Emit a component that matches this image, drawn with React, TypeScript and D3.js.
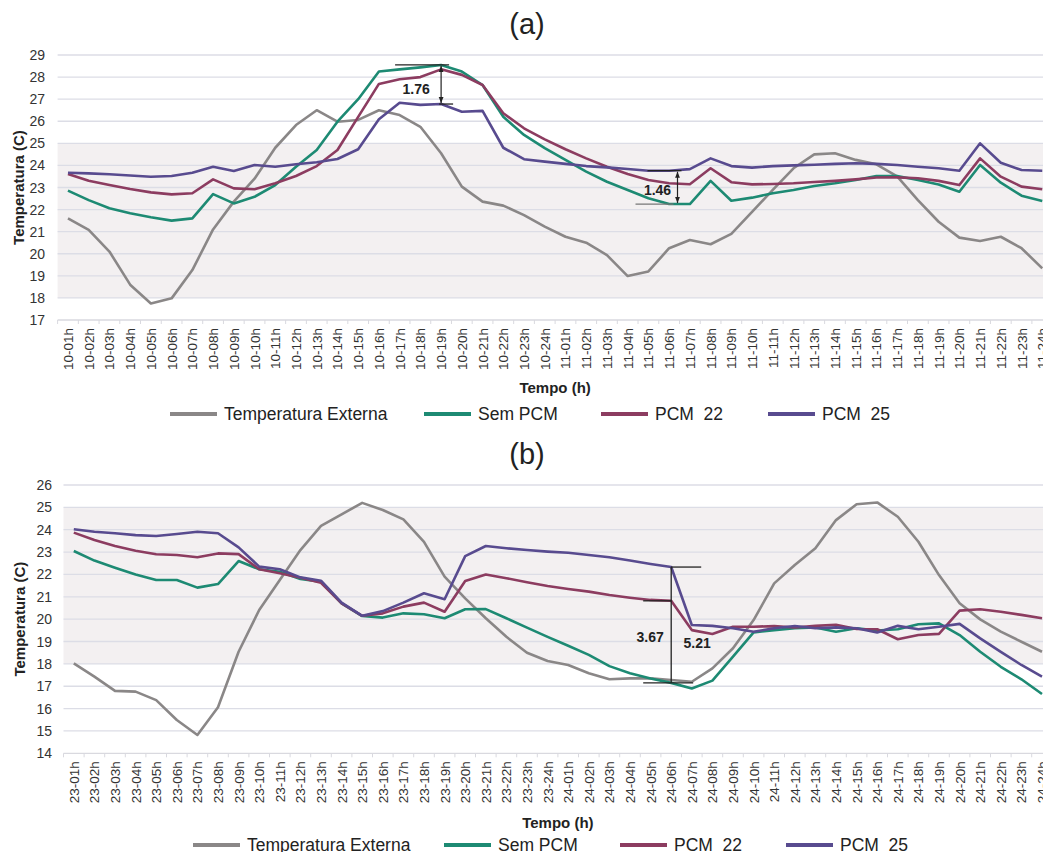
import React, { useEffect, useRef } from 'react';
import * as d3 from 'd3';

// hour labels shared by both panels
const HOURS = [
  '01h', '02h', '03h', '04h', '05h', '06h', '07h', '08h', '09h', '10h', '11h', '12h',
  '13h', '14h', '15h', '16h', '17h', '18h', '19h', '20h', '21h', '22h', '23h', '24h',
];
const CATS_A = [...HOURS.map(h => `10-${h}`), ...HOURS.map(h => `11-${h}`)];
const CATS_B = [...HOURS.map(h => `23-${h}`), ...HOURS.map(h => `24-${h}`)];

// panel (a)
const EXT_A = [
  21.6, 21.08, 20.1, 18.6, 17.75, 17.98, 19.26, 21.1, 22.36, 23.4, 24.8, 25.83,
  26.5, 25.98, 26.06, 26.5, 26.28, 25.75, 24.55, 23.04, 22.36, 22.18, 21.75, 21.23,
  20.77, 20.5, 19.94, 18.99, 19.2, 20.25, 20.62, 20.43, 20.9, 21.9, 22.89, 23.87,
  24.5, 24.55, 24.25, 24.05, 23.5, 22.43, 21.45, 20.73, 20.58, 20.77, 20.25, 19.34,
];
const SEM_A = [
  22.86, 22.43, 22.06, 21.83, 21.65, 21.5, 21.6, 22.7, 22.28, 22.58, 23.11, 23.94,
  24.7, 25.98, 27.0, 28.25, 28.35, 28.44, 28.55, 28.25, 27.64, 26.2, 25.38, 24.78,
  24.25, 23.72, 23.26, 22.89, 22.51, 22.25, 22.25, 23.3, 22.4, 22.54, 22.74, 22.89,
  23.07, 23.19, 23.34, 23.52, 23.52, 23.34, 23.14, 22.81, 24.02, 23.22, 22.63, 22.39,
];
const PCM22_A = [
  23.61, 23.31, 23.11, 22.93, 22.78, 22.69, 22.74, 23.37, 22.96, 22.92, 23.19, 23.52,
  23.97, 24.7, 26.2, 27.69, 27.9, 28.0, 28.35, 28.1, 27.64, 26.36, 25.68, 25.18,
  24.73, 24.32, 23.94, 23.61, 23.34, 23.19, 23.15, 23.87, 23.24, 23.14, 23.16, 23.19,
  23.25, 23.3, 23.37, 23.45, 23.46, 23.42, 23.3, 23.11, 24.32, 23.49, 23.04, 22.92,
];
const PCM25_A = [
  23.67, 23.64, 23.6, 23.54, 23.49, 23.52, 23.67, 23.94, 23.75, 24.02, 23.94, 24.05,
  24.14, 24.29, 24.73, 26.09, 26.84, 26.74, 26.78, 26.43, 26.47, 24.8, 24.28, 24.17,
  24.07, 23.97, 23.91, 23.84, 23.76, 23.76, 23.83, 24.32, 23.97, 23.9, 23.97, 24.0,
  24.03, 24.07, 24.1, 24.07, 24.02, 23.94, 23.87, 23.76, 25.0, 24.12, 23.79, 23.76,
];

// panel (b)
const EXT_B = [
  18.02, 17.43, 16.79, 16.76, 16.38, 15.49, 14.82, 16.06, 18.54, 20.41, 21.75, 23.09,
  24.17, 24.69, 25.2, 24.88, 24.46, 23.46, 21.9, 20.93, 20.04, 19.21, 18.5, 18.13,
  17.95, 17.58, 17.31, 17.35, 17.35, 17.28, 17.2, 17.8, 18.7, 19.96, 21.6, 22.42,
  23.17, 24.43, 25.14, 25.22, 24.58, 23.46, 21.97, 20.71, 19.99, 19.44, 18.99, 18.54,
];
const SEM_B = [
  23.05, 22.62, 22.3, 22.0, 21.75, 21.75, 21.41, 21.57, 22.6, 22.23, 22.12, 21.8,
  21.67, 20.71, 20.14, 20.07, 20.26, 20.22, 20.04, 20.44, 20.45, 20.04, 19.62, 19.21,
  18.81, 18.4, 17.9, 17.58, 17.35, 17.15, 16.9, 17.25, 18.32, 19.41, 19.51, 19.59,
  19.63, 19.44, 19.59, 19.49, 19.55, 19.77, 19.81, 19.29, 18.54, 17.87, 17.31, 16.65,
];
const PCM22_B = [
  23.87, 23.54, 23.27, 23.06, 22.9, 22.87, 22.77, 22.94, 22.91, 22.23, 22.05, 21.85,
  21.63, 20.71, 20.15, 20.26, 20.56, 20.74, 20.33, 21.71, 22.0, 21.83, 21.65, 21.48,
  21.35, 21.23, 21.08, 20.96, 20.86, 20.82, 19.51, 19.34, 19.66, 19.66, 19.69, 19.63,
  19.7, 19.75, 19.56, 19.55, 19.1, 19.29, 19.34, 20.38, 20.44, 20.33, 20.19, 20.04,
];
const PCM25_B = [
  24.02, 23.91, 23.84, 23.76, 23.72, 23.81, 23.91, 23.84, 23.21, 22.35, 22.23, 21.87,
  21.72, 20.74, 20.15, 20.36, 20.74, 21.16, 20.89, 22.82, 23.27, 23.17, 23.09, 23.02,
  22.97, 22.87, 22.77, 22.62, 22.47, 22.33, 19.74, 19.7, 19.59, 19.44, 19.59, 19.69,
  19.59, 19.63, 19.59, 19.4, 19.7, 19.55, 19.66, 19.79, 19.14, 18.54, 17.95, 17.43,
];

const Y_TICKS_A = [17, 18, 19, 20, 21, 22, 23, 24, 25, 26, 27, 28, 29];
const Y_TICKS_B = [14, 15, 16, 17, 18, 19, 20, 21, 22, 23, 24, 25, 26];

const SERIES_NAMES = ['Temperatura Externa', 'Sem PCM', 'PCM  22', 'PCM  25'];
const COLORS = ['#8a8787', '#1d8a73', '#8c3c60', '#584b8f'];

const FONT = '"Liberation Sans", Arial, sans-serif';

function drawPanel(svg, cfg) {
  const g = svg.append('g');
  const x = d3.scaleBand().domain(cfg.cats).range([cfg.left, cfg.left + cfg.step * cfg.cats.length]);
  const y = d3.scaleLinear().domain(cfg.domain).range([cfg.bottom, cfg.top]);
  const [x0, x1] = x.range();
  const cx = c => x(c) + x.bandwidth() / 2;

  // comfort band 18-25
  g.append('rect')
    .attr('x', x0)
    .attr('y', y(25))
    .attr('width', x1 - x0)
    .attr('height', y(18) - y(25))
    .attr('fill', '#f3f0f1');

  // grid
  g.selectAll('.grid')
    .data(cfg.yTicks.slice(1))
    .enter()
    .append('line')
    .attr('x1', x0)
    .attr('x2', x1)
    .attr('y1', d => y(d))
    .attr('y2', d => y(d))
    .attr('stroke', '#dcdde6')
    .attr('stroke-width', 1.3);

  // x axis line + ticks
  g.append('line')
    .attr('x1', x0).attr('x2', x1)
    .attr('y1', y(cfg.domain[0])).attr('y2', y(cfg.domain[0]))
    .attr('stroke', '#d9d9df').attr('stroke-width', 1.3);
  g.selectAll('.xt')
    .data([...cfg.cats, null])
    .enter()
    .append('line')
    .attr('x1', (d, i) => x0 + i * x.step())
    .attr('x2', (d, i) => x0 + i * x.step())
    .attr('y1', y(cfg.domain[0]))
    .attr('y2', y(cfg.domain[0]) + 4)
    .attr('stroke', '#d9d9df');

  // y labels
  g.selectAll('.yl')
    .data(cfg.yTicks)
    .enter()
    .append('text')
    .attr('x', cfg.yLabelX)
    .attr('y', d => y(d) + 5)
    .attr('text-anchor', 'end')
    .style('font-family', FONT)
    .style('font-size', '14px')
    .style('fill', '#333')
    .text(d => d);

  // x labels
  g.selectAll('.xl')
    .data(cfg.cats)
    .enter()
    .append('text')
    .attr('transform', d => `translate(${cx(d) + 5},${y(cfg.domain[0]) + 8}) rotate(-90)`)
    .attr('text-anchor', 'end')
    .style('font-family', FONT)
    .style('font-size', '13.5px')
    .style('fill', '#333')
    .text(d => d);

  // series
  const line = d3.line().x((d, i) => cx(cfg.cats[i])).y(d => y(d));
  cfg.series.forEach((s, k) => {
    g.append('path')
      .attr('d', line(s))
      .attr('fill', 'none')
      .attr('stroke', COLORS[k])
      .attr('stroke-width', 2.6)
      .attr('stroke-linejoin', 'round');
  });

  // axis titles
  g.append('text')
    .attr('transform', `translate(${cfg.yTitleX},${(y(cfg.domain[0]) + y(cfg.domain[1])) / 2}) rotate(-90)`)
    .attr('text-anchor', 'middle')
    .style('font-family', FONT)
    .style('font-weight', 'bold')
    .style('font-size', '15px')
    .style('fill', '#222')
    .text('Temperatura (C)');
  g.append('text')
    .attr('x', (x0 + x1) / 2)
    .attr('y', cfg.xTitleY)
    .attr('text-anchor', 'middle')
    .style('font-family', FONT)
    .style('font-weight', 'bold')
    .style('font-size', '15px')
    .style('fill', '#222')
    .text('Tempo (h)');

  // panel letter
  svg.append('text')
    .attr('x', 527)
    .attr('y', cfg.letterY)
    .attr('text-anchor', 'middle')
    .style('font-family', FONT)
    .style('font-size', '29px')
    .style('fill', '#222')
    .text(cfg.letter);

  // legend
  const lg = svg.append('g');
  cfg.legend.forEach((lx, k) => {
    lg.append('line')
      .attr('x1', lx).attr('x2', lx + 47)
      .attr('y1', cfg.legendY).attr('y2', cfg.legendY)
      .attr('stroke', COLORS[k]).attr('stroke-width', 4);
    lg.append('text')
      .attr('x', lx + 54)
      .attr('y', cfg.legendY + 6)
      .attr('xml:space', 'preserve')
      .style('white-space', 'pre')
      .style('font-family', FONT)
      .style('font-size', '17.5px')
      .style('fill', '#222')
      .text(SERIES_NAMES[k]);
  });

  return { x, y, cx, g };
}

function bracket(g, x1, y1, x2, y2, color = '#222') {
  g.append('line')
    .attr('x1', x1).attr('x2', x2).attr('y1', y1).attr('y2', y2)
    .attr('stroke', color).attr('stroke-width', 1.3);
}

function label(g, x, y, txt) {
  g.append('text')
    .attr('x', x)
    .attr('y', y)
    .attr('text-anchor', 'middle')
    .style('font-family', FONT)
    .style('font-weight', 'bold')
    .style('font-size', '14px')
    .style('fill', '#222')
    .text(txt);
}

const App = () => {
  const svgRef = useRef(null);

  useEffect(() => {
    const svg = d3.select(svgRef.current);
    svg.selectAll('*').remove();

    const defs = svg.append('defs');
    defs.append('marker')
      .attr('id', 'arr')
      .attr('viewBox', '0 0 10 10')
      .attr('refX', 10).attr('refY', 5)
      .attr('markerWidth', 5).attr('markerHeight', 5)
      .attr('orient', 'auto-start-reverse')
      .append('path')
      .attr('d', 'M0,1 L10,5 L0,9 z')
      .attr('fill', '#222');

    // panel (a)
    const a = drawPanel(svg, {
      cats: CATS_A,
      left: 57.6,
      step: 20.73,
      domain: [17, 29],
      top: 55,
      bottom: 320,
      yTicks: Y_TICKS_A,
      yLabelX: 45,
      yTitleX: 24,
      xTitleY: 393,
      letter: '(a)',
      letterY: 34,
      legendY: 414,
      legend: [170, 424, 601, 768],
      series: [EXT_A, SEM_A, PCM22_A, PCM25_A],
    });

    // 1.76 at 10-19h
    const i1 = 18;
    const xa = a.cx(CATS_A[i1]);
    bracket(a.g, xa - 46, a.y(SEM_A[i1]), xa + 8, a.y(SEM_A[i1]));
    bracket(a.g, xa - 2, a.y(PCM25_A[i1]), xa + 12, a.y(PCM25_A[i1]));
    a.g.append('line')
      .attr('x1', xa).attr('x2', xa)
      .attr('y1', a.y(SEM_A[i1]) + 1).attr('y2', a.y(PCM25_A[i1]) - 1)
      .attr('stroke', '#222').attr('stroke-width', 1.2)
      .attr('marker-start', 'url(#arr)').attr('marker-end', 'url(#arr)');
    label(a.g, xa - 25, a.y(SEM_A[i1]) + 29, '1.76');

    // 1.46 near 11-06h / 11-07h
    const i2 = 29;
    const xb = a.x(CATS_A[i2 + 1]) - 2;
    bracket(a.g, xb - 42, a.y(SEM_A[i2]), xb - 4, a.y(SEM_A[i2]), '#777');
    bracket(a.g, xb - 30, a.y(PCM25_A[i2]), xb + 4, a.y(PCM25_A[i2]));
    a.g.append('line')
      .attr('x1', xb).attr('x2', xb)
      .attr('y1', a.y(PCM25_A[i2]) + 1).attr('y2', a.y(SEM_A[i2]) - 1)
      .attr('stroke', '#222').attr('stroke-width', 1.2)
      .attr('marker-start', 'url(#arr)').attr('marker-end', 'url(#arr)');
    label(a.g, xb - 20, a.y(SEM_A[i2]) - 9, '1.46');

    // panel (b)
    const b = drawPanel(svg, {
      cats: CATS_B,
      left: 63.5,
      step: 20.6,
      domain: [14, 26],
      top: 485,
      bottom: 753.3,
      yTicks: Y_TICKS_B,
      yLabelX: 52,
      yTitleX: 25,
      xTitleY: 828,
      letter: '(b)',
      letterY: 464,
      legendY: 845,
      legend: [193, 444, 620, 786],
      series: [EXT_B, SEM_B, PCM22_B, PCM25_B],
    });

    // 3.67 / 5.21 at 24-06h
    const j = 29;
    const xc = b.cx(CATS_B[j]);
    bracket(b.g, xc, b.y(PCM25_B[j]), xc + 30, b.y(PCM25_B[j]));
    bracket(b.g, xc - 28, b.y(PCM22_B[j]), xc, b.y(PCM22_B[j]));
    bracket(b.g, xc - 28, b.y(SEM_B[j]), xc + 22, b.y(SEM_B[j]));
    bracket(b.g, xc, b.y(PCM25_B[j]), xc, b.y(SEM_B[j]));
    label(b.g, xc - 21, b.y(SEM_B[j]) - 41, '3.67');
    label(b.g, xc + 26, b.y(SEM_B[j]) - 35, '5.21');
  }, []);

  return (
    <svg
      ref={svgRef}
      width={1043}
      height={852}
      style={{ position: 'absolute', left: 0, top: 0, background: '#fff', display: 'block' }}
    />
  );
};

export default App;
